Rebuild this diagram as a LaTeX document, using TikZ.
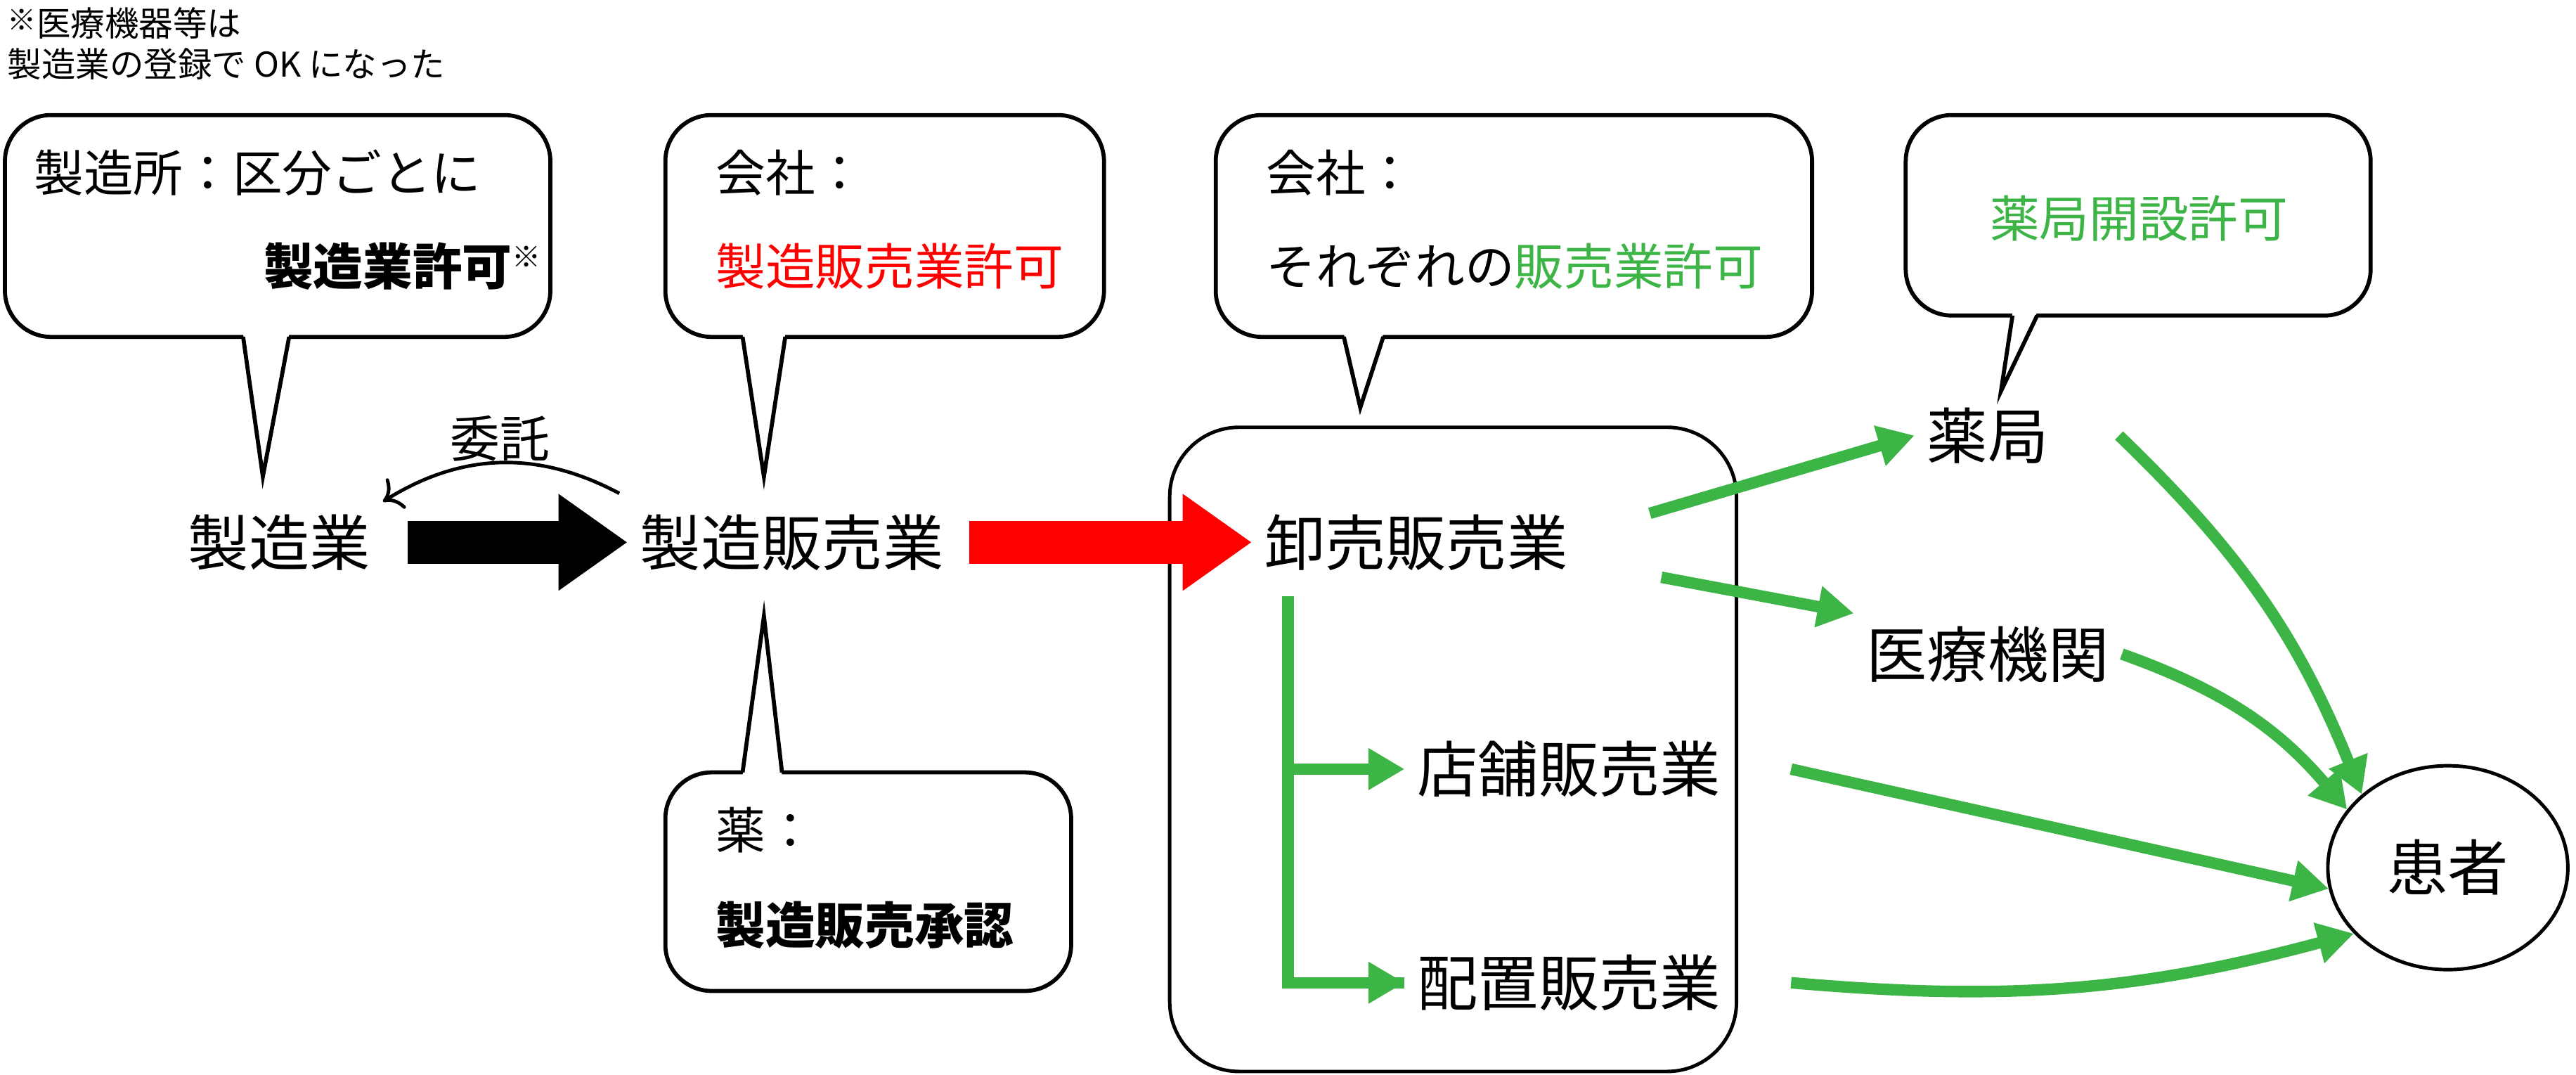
\documentclass[tikz,border=0pt]{standalone}
\usepackage{fontspec}
\setmainfont{Noto Sans CJK JP}
\usetikzlibrary{arrows.meta,positioning,shapes.geometric}
\definecolor{okgreen}{RGB}{60,180,70}
\begin{document}
\begin{tikzpicture}[x=0.01cm, y=-0.01cm,
    main/.style = {font=\fontsize{10.5}{12}\selectfont, inner sep=2pt},
    ctext/.style = {font=\fontsize{8.6}{10}\selectfont, inner sep=0pt},
    callout/.style = {draw, fill=white, line width=0.7pt, rounded corners=8pt},
    tail/.style = {line width=0.7pt},
    flow/.style = {draw=okgreen, line width=0.07cm, -{Triangle[length=0.22cm,width=0.24cm]}},
    bigarrow/.style = {line width=0.26cm, -{Triangle[length=0.42cm,width=0.56cm]}}]
    \useasboundingbox (0,0) rectangle (1568,654);

    % note
    \node[ctext, anchor=north west, align=left, font=\fontsize{5.9}{7}\selectfont] (note) at (4,4)
        {\raisebox{1pt}{\tiny ※}医療機器等は\\製造業の登録で OK になった};

    % callouts
    \draw[callout] (3,70) rectangle (335,205);
    \fill[white] (148,203) -- (160,290) -- (176,203) -- cycle;
    \draw[tail] (148,205) -- (160,290) -- (176,205);
    \draw[callout] (405,70) rectangle (672,205);
    \fill[white] (452,203) -- (465,290) -- (478,203) -- cycle;
    \draw[tail] (452,205) -- (465,290) -- (478,205);
    \draw[callout] (740,70) rectangle (1103,205);
    \fill[white] (818,203) -- (828,248) -- (842,203) -- cycle;
    \draw[tail] (818,205) -- (828,248) -- (842,205);
    \draw[callout] (1160,70) rectangle (1443,192);
    \fill[white] (1225,190) -- (1218,238) -- (1240,190) -- cycle;
    \draw[tail] (1225,192) -- (1218,238) -- (1240,192);
    \draw[callout] (405,470) rectangle (652,603);
    \fill[white] (452,472) -- (465,375) -- (476,472) -- cycle;
    \draw[tail] (452,470) -- (465,375) -- (476,470);

    \node[ctext, anchor=west] (c1a) at (20,105) {製造所：区分ごとに};
    \node[ctext, anchor=east] (c1b) at (330,162) {\textbf{製造業許可}\raisebox{3pt}{\tiny ※}};
    \node[ctext, anchor=west] (c2a) at (435,105) {会社：};
    \node[ctext, anchor=west, text=red] (c2b) at (435,162) {製造販売業許可};
    \node[ctext, anchor=west] (c3a) at (770,105) {会社：};
    \node[ctext, anchor=west] (c3b) at (770,162) {それぞれの\textcolor{okgreen}{販売業許可}};
    \node[ctext, text=okgreen] (c4) at (1302,133) {薬局開設許可};
    \node[ctext, anchor=west] (c5a) at (435,505) {薬：};
    \node[ctext, anchor=west] (c5b) at (435,563) {\textbf{製造販売承認}};

    % group box
    \draw[rounded corners=12pt, line width=0.6pt] (712,260) rectangle (1057,652);

    % nodes
    \node[main] (seizou) at (170,330) {製造業};
    \node[main] (seihan) at (482,330) {製造販売業};
    \node[main] (oroshi) at (862,330) {卸売販売業};
    \node[main] (tenpo) at (955,468) {店舗販売業};
    \node[main] (haichi) at (955,598) {配置販売業};
    \node[main] (yakkyoku) at (1210,265) {薬局};
    \node[main] (iryou) at (1210,398) {医療機関};
    \node[main, draw, ellipse, minimum width=1.46cm, minimum height=1.24cm, line width=0.6pt] (kanja) at (1490,528) {患者};

    % flows
    \draw[bigarrow, black] (seizou.east) ++(15,0) coordinate (s1) (s1) -- (seihan.west);
    \draw[bigarrow, red] (seihan.east) ++(8,0) coordinate (s2) (s2) -- (oroshi.west);
    \draw[->, line width=0.6pt] (seihan.north west) ++(-5,-5) coordinate (itaku) (itaku) to[bend right=30] node[above, ctext] (itakulabel) {委託} (seizou.north east);

    \draw[okgreen, line width=0.07cm] (oroshi.south west) ++(22,8) coordinate (br) (br) |- (haichi.west);
    \draw[flow] (br |- tenpo.west) -- (tenpo.west);
    \draw[flow] (br |- haichi.west) -- (haichi.west);

    \draw[flow] ([xshift=12]oroshi.10) -- (yakkyoku.west);
    \draw[flow] ([xshift=14]oroshi.-12) -- (iryou.north west);
    \draw[flow] ([xshift=10]yakkyoku.east) to[bend left=12] (kanja.north west);
    \draw[flow] (iryou.east) to[bend left=15] (kanja.150);
    \draw[flow] ([xshift=10]tenpo.east) -- (kanja.190);
    \draw[flow] ([xshift=10]haichi.east) to[bend right=10] (kanja.215);
\end{tikzpicture}
\end{document}
